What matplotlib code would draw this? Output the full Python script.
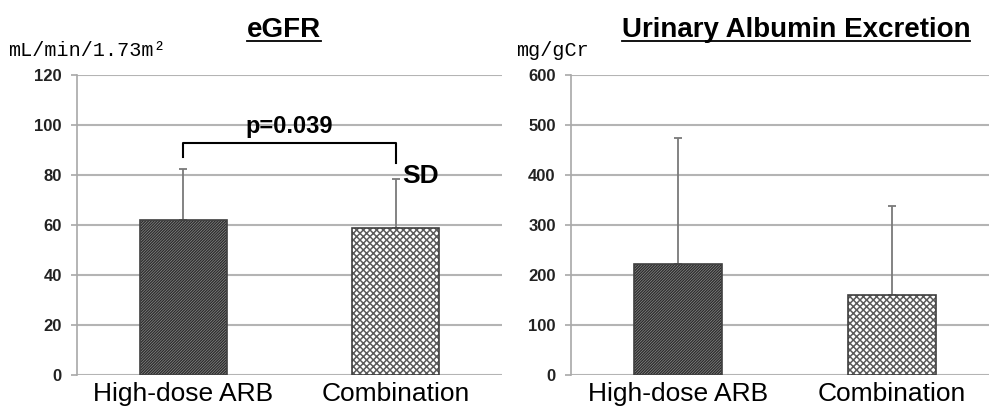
import matplotlib
matplotlib.use('Agg')
import matplotlib.pyplot as plt

plt.rcParams.update({'font.family': 'Liberation Sans', 'hatch.linewidth': 1.0})

groups = ['High-dose ARB', 'Combination']
egfr_mean = [62, 59]
egfr_sd = [20.4, 19.3]
uae_mean = [223, 161]
uae_sd = [251, 178]
p_text = 'p=0.039'

W, H = 989, 412
fig = plt.figure(figsize=(W / 100, H / 100), dpi=100)

def px_axes(x0, x1, y0, y1):
    return fig.add_axes([x0 / W, 1 - y1 / H, (x1 - x0) / W, (y1 - y0) / H])

grid_c = '#b4b4b4'
bar_styles = [dict(face='#9a9a9a', hatch='/' * 12, hc='#2e2e2e', hlw=1.0),
              dict(face='white', hatch='xxxxx', hc='#5a5a5a', hlw=1.1)]

def draw_panel(ax, means, sds, ymax, step, title, unit, title_x, unit_x):
    x = range(len(groups))
    for i in x:
        st = bar_styles[i]
        plt.rcParams['hatch.linewidth'] = st['hlw']
        ax.bar(i, means[i], width=0.41, color=st['face'], hatch=st['hatch'],
               edgecolor=st['hc'], linewidth=0, zorder=3)
        ax.bar(i, means[i], width=0.41, fill=False, edgecolor='#404040',
               linewidth=1.2, zorder=4)
    ax.errorbar(list(x), means, yerr=[[0] * len(sds), sds], fmt='none',
                ecolor='#7a7a7a', elinewidth=1.3, capsize=3, capthick=1.3, zorder=2)
    ax.set_xlim(-0.5, 1.5)
    ax.set_ylim(0, ymax)
    ax.set_yticks(range(0, ymax + 1, step))
    ax.yaxis.grid(True, color=grid_c, linewidth=1.5, zorder=0)
    ax.set_axisbelow(True)
    for s in ['top', 'right', 'bottom']:
        ax.spines[s].set_visible(False)
    ax.spines['left'].set_color('#a8a8a8')
    ax.spines['left'].set_linewidth(1.2)
    ax.tick_params(axis='y', length=4, width=1.2, color='#a8a8a8', pad=7,
                   labelsize=12, labelcolor='#222222')
    for lab in ax.get_yticklabels():
        lab.set_fontweight('bold')
    ax.set_xticks(list(x))
    ax.set_xticklabels(groups, fontsize=19)
    ax.tick_params(axis='x', length=0, pad=5)
    fig.text(title_x / W, 1 - 37 / H, title, fontsize=20, fontweight='bold',
             ha='center', va='baseline')
    fig.text(unit_x / W, 1 - 50 / H, unit, fontsize=14.5, family='Liberation Mono',
             ha='left', va='center')

ax1 = px_axes(77, 502, 75, 375)
draw_panel(ax1, egfr_mean, egfr_sd, 120, 20, 'eGFR', 'mL/min/1.73m²', 284, 8)

ax2 = px_axes(571, 999, 75, 375)
draw_panel(ax2, uae_mean, uae_sd, 600, 100, 'Urinary Albumin Excretion', 'mg/gCr', 796, 516)

# underline titles
fig.canvas.draw()
r = fig.canvas.get_renderer()
for t in fig.texts:
    if t.get_fontweight() in ('bold', 700):
        bb = t.get_window_extent(r)
        fig.add_artist(plt.Line2D([bb.x0 / W, bb.x1 / W], [(H - 41) / H] * 2,
                                  color='black', linewidth=1.3))

# significance bracket
ax1.plot([0, 0, 1, 1], [87.2, 92.8, 92.8, 84.8], color='black', linewidth=1.5,
         zorder=5, clip_on=False)
ax1.text(0.5, 95, p_text, ha='center', va='bottom', fontsize=17, fontweight='bold')
ax1.text(1.03, 79.6, 'SD', ha='left', va='center', fontsize=19, fontweight='bold')

fig.savefig('out.png', dpi=100)
